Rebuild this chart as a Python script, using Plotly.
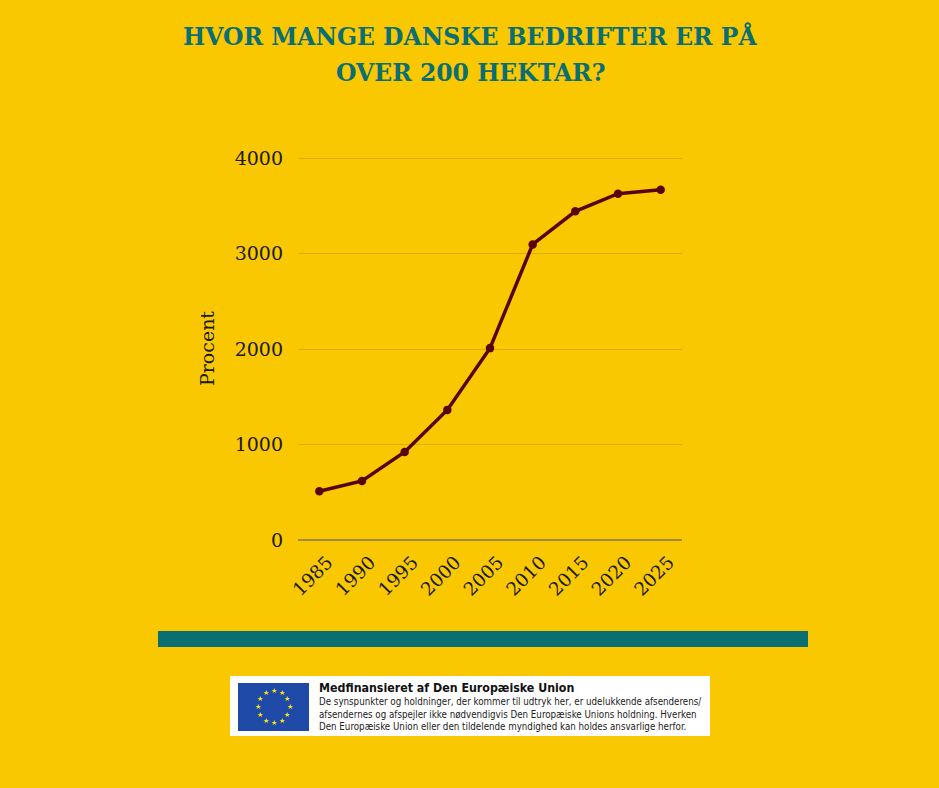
import math
import plotly.graph_objects as go

years = ["1985", "1990", "1995", "2000", "2005", "2010", "2015", "2020", "2025"]
farms = [511, 619, 922, 1363, 2010, 3096, 3443, 3628, 3670]
y_ticks = [0, 1000, 2000, 3000, 4000]

BG = "#F9C800"
TEAL = "#0B6E73"
LINE = "#5A0303"
W, H = 939, 788
L, R, T, B = 298, 682, 157, 540

def px(x):
    return (x - L) / (R - L)

def py(y):
    return (B - y) / (B - T)

fig = go.Figure()
fig.add_trace(go.Scatter(
    x=years, y=farms, mode="lines+markers",
    line=dict(color=LINE, width=3.5),
    marker=dict(color=LINE, size=8.5),
    showlegend=False, hoverinfo="x+y",
))

shapes = [
    dict(type="rect", xref="paper", yref="paper", x0=px(158), x1=px(808), y0=py(647), y1=py(631),
         fillcolor=TEAL, line=dict(width=0), layer="above"),
    dict(type="rect", xref="paper", yref="paper", x0=px(230), x1=px(710), y0=py(736), y1=py(676),
         fillcolor="white", line=dict(width=0), layer="above"),
    dict(type="rect", xref="paper", yref="paper", x0=px(238), x1=px(309), y0=py(731), y1=py(683),
         fillcolor="#1F4AA8", line=dict(width=0), layer="above"),
]

title_font = dict(family="DejaVu Serif", size=23.5, color=TEAL)
annotations = [
    dict(text="<b>HVOR MANGE DANSKE BEDRIFTER ER PÅ</b>", xref="paper", yref="paper",
         x=px(470), y=py(36), xanchor="center", yanchor="middle", showarrow=False, font=title_font),
    dict(text="<b>OVER 200 HEKTAR?</b>", xref="paper", yref="paper",
         x=px(470), y=py(73), xanchor="center", yanchor="middle", showarrow=False, font=title_font),
    dict(text="<b>Medfinansieret af Den Europæiske Union</b>", xref="paper", yref="paper",
         x=px(317), y=py(688), xanchor="left", yanchor="middle", showarrow=False,
         font=dict(family="DejaVu Sans Condensed", size=12.3, color="#111111")),
    dict(text="De synspunkter og holdninger, der kommer til udtryk her, er udelukkende afsenderens/<br>"
              "afsendernes og afspejler ikke nødvendigvis Den Europæiske Unions holdning. Hverken<br>"
              "Den Europæiske Union eller den tildelende myndighed kan holdes ansvarlige herfor.",
         xref="paper", yref="paper", x=px(317), y=py(714), xanchor="left", yanchor="middle",
         showarrow=False, align="left",
         font=dict(family="DejaVu Sans Condensed", size=9.7, color="#222222")),
]

cx, cy, rad = 273.5, 707, 16
for i in range(12):
    a = math.radians(90 - i * 30)
    annotations.append(dict(text="★", xref="paper", yref="paper",
                            x=px(cx + rad * math.cos(a)), y=py(cy - rad * math.sin(a)),
                            xanchor="center", yanchor="middle", showarrow=False,
                            font=dict(family="DejaVu Sans", size=7, color="#FFE500")))

fig.update_layout(
    width=W, height=H,
    margin=dict(l=L, r=W - R, t=T, b=H - B, pad=0),
    paper_bgcolor=BG, plot_bgcolor=BG,
    shapes=shapes, annotations=annotations,
    xaxis=dict(type="category", range=[-0.5, 8.5], showgrid=False, showline=False, ticks="",
               tickangle=-45, ticklabelstandoff=7, ticklabelshift=8,
               tickfont=dict(family="DejaVu Serif", size=18.5, color="#1a1a1a"),
               fixedrange=True),
    yaxis=dict(range=[0, 4012], tickvals=y_ticks, showgrid=True, gridcolor="#D9AE00", gridwidth=1,
               zeroline=True, zerolinecolor="#A08C3C", zerolinewidth=1.5, showline=False, ticks="",
               ticklabelstandoff=14,
               tickfont=dict(family="DejaVu Serif", size=19, color="#1a1a1a"),
               title=dict(text="Procent", standoff=14,
                          font=dict(family="DejaVu Serif", size=19, color="#1a1a1a")),
               fixedrange=True),
)

fig.write_html("out.html", config={"displayModeBar": False},
               post_script="document.body.style.margin='0';")
